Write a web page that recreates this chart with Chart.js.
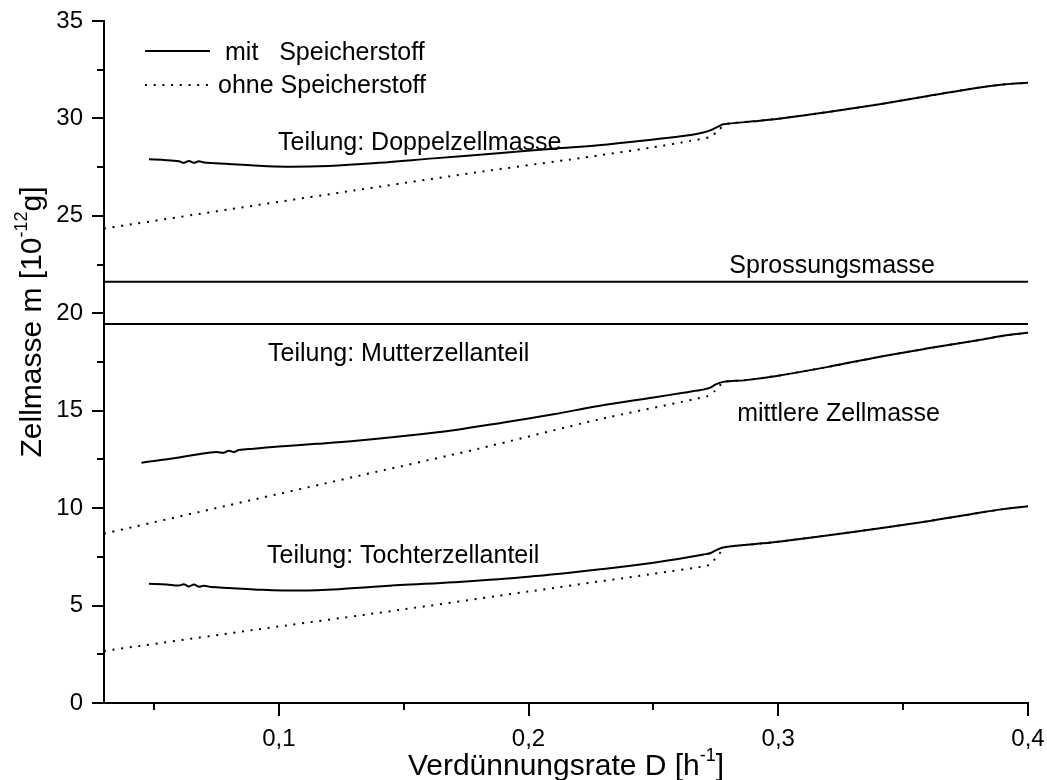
<!DOCTYPE html>
<html><head><meta charset="utf-8">
<script src="https://cdn.jsdelivr.net/npm/chart.js@4.4.1/dist/chart.umd.min.js"></script>
<style>html,body{margin:0;padding:0;background:#fff;}#wrap{width:1047px;height:780px;}</style>
</head><body><div id="wrap"><canvas id="c" width="1047" height="780" style="width:1047px;height:780px"></canvas></div>
<script>
const FONT = '"Liberation Sans", Arial, Helvetica, sans-serif';

// x axis tick values and y axis tick values
const xTickValues = [0.1, 0.2, 0.3, 0.4];
const xMinorTicks = [0.05, 0.15, 0.25, 0.35];
const yTickValues = [0, 5, 10, 15, 20, 25, 30, 35];
const yMinorTicks = [2.5, 7.5, 12.5, 17.5, 22.5, 27.5, 32.5];

// Teilung: Doppelzellmasse, mit Speicherstoff
const doppelMitX = [0.048,0.055,0.060,0.062,0.064,0.066,0.068,0.070,0.080,0.090,0.103,0.120,0.140,0.162,0.189,0.210,0.228,0.250,0.265,0.270,0.273,0.2765,0.278,0.290,0.301,0.320,0.340,0.360,0.380,0.390,0.400];
const doppelMitY = [27.90,27.86,27.80,27.72,27.82,27.72,27.80,27.74,27.66,27.58,27.52,27.56,27.72,27.95,28.22,28.45,28.62,28.92,29.15,29.28,29.40,29.62,29.70,29.85,30.00,30.33,30.72,31.15,31.58,31.74,31.83];
// Teilung: Doppelzellmasse, ohne Speicherstoff
const doppelOhneX = [0.030,0.080,0.130,0.180,0.221,0.250,0.265,0.273,0.2765,0.279,0.290,0.301,0.320,0.340,0.360,0.380,0.390,0.400];
const doppelOhneY = [24.35,25.33,26.30,27.25,27.97,28.52,28.85,29.06,29.45,29.72,29.85,30.00,30.33,30.72,31.15,31.58,31.74,31.83];

// Sprossungsmasse and lower horizontal line
const sprossX = [0.03, 0.40];
const sprossY = [21.62, 21.62];
const grenzeX = [0.03, 0.40];
const grenzeY = [19.45, 19.45];

// Teilung: Mutterzellanteil, mit Speicherstoff
const mutterMitX = [0.045,0.050,0.060,0.0685,0.075,0.078,0.080,0.082,0.084,0.090,0.100,0.115,0.130,0.150,0.170,0.190,0.210,0.228,0.250,0.262,0.2689,0.271,0.273,0.275,0.278,0.287,0.300,0.320,0.3407,0.360,0.380,0.392,0.400];
const mutterMitY = [12.33,12.42,12.60,12.78,12.88,12.84,12.95,12.88,12.98,13.05,13.16,13.30,13.45,13.70,14.00,14.40,14.82,15.24,15.68,15.92,16.06,16.12,16.20,16.35,16.48,16.57,16.80,17.25,17.77,18.20,18.62,18.88,19.00];
// Teilung: Mutterzellanteil, ohne Speicherstoff
const mutterOhneX = [0.030,0.080,0.130,0.180,0.228,0.2717,0.2745,0.277,0.279,0.287,0.300,0.320,0.3407,0.360,0.380,0.392,0.400];
const mutterOhneY = [8.69,10.15,11.60,13.05,14.55,15.75,16.00,16.35,16.50,16.57,16.80,17.25,17.77,18.20,18.62,18.88,19.00];

// Teilung: Tochterzellanteil, mit Speicherstoff
const tochterMitX = [0.048,0.055,0.060,0.062,0.064,0.066,0.068,0.070,0.073,0.080,0.090,0.1086,0.125,0.1486,0.170,0.200,0.230,0.250,0.265,0.270,0.273,0.276,0.279,0.290,0.300,0.330,0.360,0.380,0.390,0.400];
const tochterMitY = [6.12,6.08,6.03,6.10,5.98,6.08,5.97,6.02,5.95,5.90,5.83,5.77,5.85,6.05,6.20,6.48,6.88,7.20,7.50,7.62,7.70,7.90,8.00,8.15,8.28,8.78,9.33,9.75,9.95,10.10];
// Teilung: Tochterzellanteil, ohne Speicherstoff
const tochterOhneX = [0.030,0.090,0.148,0.200,0.250,0.2715,0.274,0.277,0.279,0.290,0.300,0.330,0.360,0.380,0.390,0.400];
const tochterOhneY = [2.67,3.75,4.77,5.72,6.63,7.05,7.30,7.75,8.00,8.15,8.28,8.78,9.33,9.75,9.95,10.10];

const legendLabels = ['mit   Speicherstoff', 'ohne Speicherstoff'];
const annotations = [
  {text: 'Teilung: Doppelzellmasse', px: 278, py: 150, align: 'left'},
  {text: 'Sprossungsmasse', px: 935, py: 273, align: 'right'},
  {text: 'Teilung: Mutterzellanteil', px: 268, py: 361, align: 'left'},
  {text: 'mittlere Zellmasse', px: 940, py: 421, align: 'right'},
  {text: 'Teilung: Tochterzellanteil', px: 267, py: 563, align: 'left'}
];

function pts(xs, ys){ return xs.map((x,i)=>({x:x, y:ys[i]})); }
const DOT = [2, 6.7];
function solid(label, xs, ys){ return {label, data: pts(xs,ys), showLine:true, borderColor:'#000', borderWidth:2, pointRadius:0, tension:0.35, fill:false}; }
function dotted(label, xs, ys){ return {label, data: pts(xs,ys), showLine:true, borderColor:'#000', borderWidth:2, borderDash:DOT, pointRadius:0, tension:0.2, fill:false}; }

const decor = {
  id:'decor',
  afterDraw(chart){
    const ctx = chart.ctx, xs = chart.scales.x, ys = chart.scales.y, a = chart.chartArea;
    ctx.save();
    ctx.strokeStyle = '#000'; ctx.lineWidth = 2; ctx.lineCap='butt';
    // minor ticks
    ctx.beginPath();
    xMinorTicks.forEach(v=>{ const p = Math.round(xs.getPixelForValue(v)); ctx.moveTo(p, a.bottom); ctx.lineTo(p, a.bottom+7); });
    yMinorTicks.forEach(v=>{ const p = Math.round(ys.getPixelForValue(v)); ctx.moveTo(a.left, p); ctx.lineTo(a.left-7, p); });
    ctx.stroke();
    // legend
    ctx.beginPath(); ctx.moveTo(145, 51); ctx.lineTo(210, 51); ctx.stroke();
    ctx.setLineDash(DOT); ctx.beginPath(); ctx.moveTo(145, 85); ctx.lineTo(210, 85); ctx.stroke(); ctx.setLineDash([]);
    ctx.fillStyle = '#000';
    ctx.font = '25px ' + FONT; ctx.textBaseline = 'alphabetic'; ctx.textAlign='left';
    ctx.fillText(legendLabels[0], 225, 60);
    ctx.fillText(legendLabels[1], 218, 93);
    // annotations
    annotations.forEach(t=>{ ctx.textAlign = t.align; ctx.fillText(t.text, t.px, t.py); });
    // x title with superscript
    const big = '30px ' + FONT, sm = '18px ' + FONT;
    const p1 = 'Verdünnungsrate D [h', s1 = '-1', p2 = ']';
    ctx.font = big; const w1 = ctx.measureText(p1).width, w3 = ctx.measureText(p2).width;
    ctx.font = sm; const w2 = ctx.measureText(s1).width;
    let x0 = (a.left + a.right)/2 - (w1+w2+w3)/2; const yb = 775;
    ctx.textAlign='left';
    ctx.font = big; ctx.fillText(p1, x0, yb);
    ctx.font = sm; ctx.fillText(s1, x0+w1, yb-14);
    ctx.font = big; ctx.fillText(p2, x0+w1+w2, yb);
    // y title rotated
    const q1 = 'Zellmasse m [10', q2 = '-12', q3 = 'g]';
    ctx.font = big; const v1 = ctx.measureText(q1).width, v3 = ctx.measureText(q3).width;
    ctx.font = sm; const v2 = ctx.measureText(q2).width;
    ctx.translate(41, 322); ctx.rotate(-Math.PI/2);
    let s0 = -(v1+v2+v3)/2;
    ctx.font = big; ctx.fillText(q1, s0, 0);
    ctx.font = sm; ctx.fillText(q2, s0+v1, -14);
    ctx.font = big; ctx.fillText(q3, s0+v1+v2, 0);
    ctx.restore();
  }
};

new Chart(document.getElementById('c'), {
  type:'scatter',
  data:{ datasets:[
    solid('Doppelzellmasse mit', doppelMitX, doppelMitY),
    dotted('Doppelzellmasse ohne', doppelOhneX, doppelOhneY),
    solid('Sprossungsmasse', sprossX, sprossY),
    solid('Grenze', grenzeX, grenzeY),
    solid('Mutterzellanteil mit', mutterMitX, mutterMitY),
    dotted('Mutterzellanteil ohne', mutterOhneX, mutterOhneY),
    solid('Tochterzellanteil mit', tochterMitX, tochterMitY),
    dotted('Tochterzellanteil ohne', tochterOhneX, tochterOhneY)
  ]},
  options:{
    responsive:false, animation:false, devicePixelRatio:1,
    layout:{padding:{left:0, right:19, top:21, bottom:0}},
    plugins:{legend:{display:false}, tooltip:{enabled:false}},
    scales:{
      x:{type:'linear', min:0.03, max:0.4,
        afterBuildTicks(s){ s.ticks = xTickValues.map(v=>({value:v})); },
        afterFit(s){ s.height = 77; s.paddingLeft = 0; s.paddingRight = 0; },
        ticks:{color:'#000', font:{family:FONT, size:24}, padding:9, maxRotation:0,
          callback:(v)=>String(v).replace('.', ',')},
        grid:{display:true, drawOnChartArea:false, drawTicks:true, tickLength:13, color:'#000', lineWidth:2},
        border:{display:true, color:'#000', width:2}
      },
      y:{type:'linear', min:0, max:35,
        afterBuildTicks(s){ s.ticks = yTickValues.map(v=>({value:v})); },
        afterFit(s){ s.width = 104; s.paddingTop = 0; s.paddingBottom = 0; },
        ticks:{color:'#000', font:{family:FONT, size:24}, padding:9,
          callback:(v)=>String(v)},
        grid:{display:true, drawOnChartArea:false, drawTicks:true, tickLength:12, color:'#000', lineWidth:2},
        border:{display:true, color:'#000', width:2}
      }
    }
  },
  plugins:[decor]
});
</script></body></html>
